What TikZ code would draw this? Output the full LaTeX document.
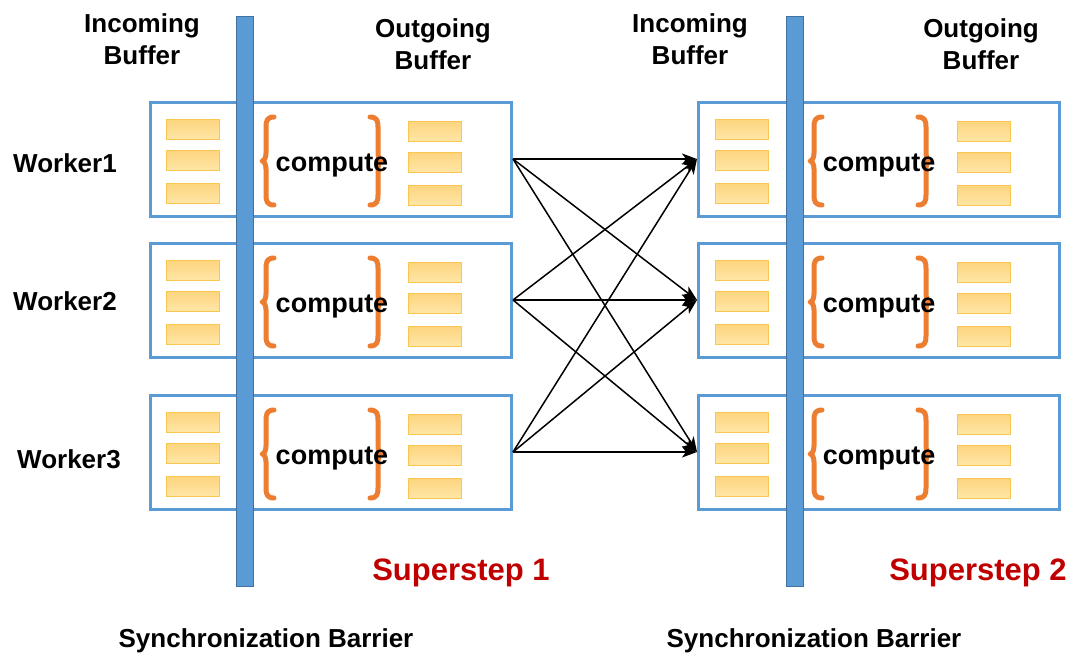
\documentclass[tikz,border=0pt]{standalone}
\usepackage{fontspec}
\setmainfont{Liberation Sans}
\usetikzlibrary{arrows.meta}
\definecolor{boxblue}{HTML}{5B9BD5}
\definecolor{baredge}{HTML}{41719C}
\definecolor{bufftop}{HTML}{FDD47E}
\definecolor{buffbot}{HTML}{FFE6A6}
\definecolor{buffedge}{HTML}{F9C74F}
\definecolor{braceorange}{HTML}{ED7D31}
\definecolor{stepred}{HTML}{C00000}
\tikzset{
  worker/.style={draw=boxblue,line width=3pt,minimum width=361pt,minimum height=114pt,inner sep=0pt},
  buff/.style={draw=buffedge,line width=0.8pt,top color=bufftop,bottom color=buffbot,minimum width=53pt,minimum height=20pt,inner sep=0pt},
  barrier/.style={fill=boxblue,draw=baredge,line width=0.8pt},
  curly/.style={draw=braceorange,line width=5pt,line cap=round,line join=round},
  msg/.style={-{Stealth[length=15pt,width=11pt,inset=4pt]},line width=1.5pt},
  lbl/.style={font=\bfseries\fontsize{26}{32}\selectfont,align=center,inner sep=0pt},
  steplbl/.style={font=\bfseries\fontsize{31}{36}\selectfont,text=stepred,inner sep=0pt},
}
\newcommand{\curlyhalf}{(13,-44) .. controls (6,-44) and (5,-40) .. (5,-34) -- (5,-8) .. controls (5,-3) and (3,0) .. (1,0) .. controls (3,0) and (5,3) .. (5,8) -- (5,34) .. controls (5,40) and (6,44) .. (13,44)}
\begin{document}
\begin{tikzpicture}[x=1pt,y=-1pt]
\useasboundingbox (0,0) rectangle (1074,657);
% worker boxes, buffers and compute braces for both supersteps
\foreach \r/\yc in {1/159,2/300,3/452}{
  \node[worker] (a\r) at (331,\yc) {};
  \node[worker] (b\r) at (879,\yc) {};
  \foreach \g/\xi/\xo/\xl/\xr/\xc in {a/193/435/261/383/332,b/742/984/809/931/879}{
    \foreach \k/\dy in {1/-30,2/1,3/34}{
      \node[buff] (\g\r in\k) at (\xi,\yc+\dy) {};
      \node[buff] (\g\r out\k) at (\xo,\yc+\dy+2) {};
    }
    \draw[curly,shift={(\xl,\yc+2)}] \curlyhalf;
    \draw[curly,shift={(\xr,\yc+2)},xscale=-1] \curlyhalf;
    \node[font=\bfseries\fontsize{27}{30}\selectfont,inner sep=0pt] (\g\r c) at (\xc,\yc+6) {compute};
  }
}
% barriers
\draw[barrier] (236,16) rectangle (253,586);
\draw[barrier] (786,16) rectangle (803,586);
% messages between supersteps
\foreach \s in {1,2,3}{
  \foreach \t in {1,2,3}{
    \draw[msg] (a\s.east) -- (b\t.west);
  }
}
\node[lbl] (w1) at (65,163) {Worker1};
\node[lbl] (w2) at (65,301) {Worker2};
\node[lbl] (w3) at (69,459) {Worker3};
\node[lbl] (in1) at (142,39) {Incoming\\Buffer};
\node[lbl] (out1) at (433,44) {Outgoing\\Buffer};
\node[lbl] (in2) at (690,39) {Incoming\\Buffer};
\node[lbl] (out2) at (981,44) {Outgoing\\Buffer};
\node[steplbl] (ss1) at (461,573) {Superstep 1};
\node[steplbl] (ss2) at (978,573) {Superstep 2};
\node[lbl] (sb1) at (266,641) {Synchronization Barrier};
\node[lbl] (sb2) at (814,641) {Synchronization Barrier};
\end{tikzpicture}
\end{document}
